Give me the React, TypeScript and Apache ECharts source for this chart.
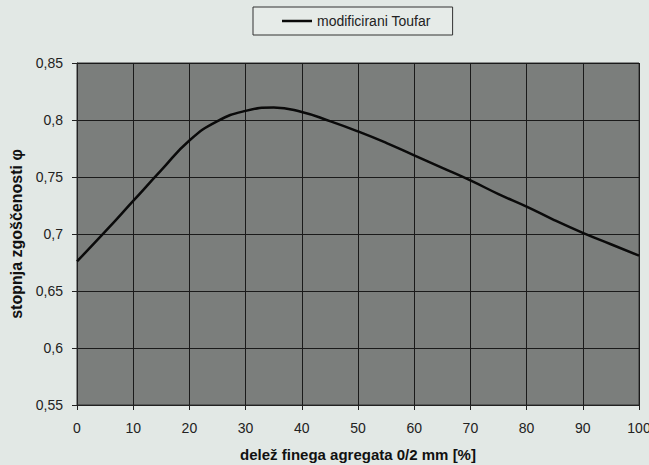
import React, { useEffect, useRef } from "react";
import * as echarts from "echarts";

const xValues = [0, 5, 10, 15, 20, 25, 30, 35, 40, 45, 50, 55, 60, 65, 70, 75, 80, 85, 90, 95, 100];
const phiValues = [0.676, 0.702, 0.729, 0.756, 0.782, 0.799, 0.808, 0.811, 0.807, 0.799, 0.79, 0.78, 0.769, 0.758, 0.747, 0.735, 0.724, 0.712, 0.701, 0.691, 0.681];
const seriesName = "modificirani Toufar";
const xTitle = "delež finega agregata 0/2 mm [%]";
const yTitle = "stopnja zgoščenosti φ";

export default function App() {
  const ref = useRef<HTMLDivElement>(null);
  useEffect(() => {
    document.body.style.margin = "0";
    if (!ref.current) return;
    const chart = echarts.init(ref.current, undefined, { renderer: "svg" });
    const font = "'Liberation Sans', Arial, sans-serif";
    chart.setOption({
      animation: false,
      backgroundColor: "#e2e8e5",
      textStyle: { fontFamily: font },
      legend: {
        show: true,
        top: 7,
        left: 253,
        itemWidth: 30,
        itemHeight: 10,
        padding: [7, 22, 7, 29],
        borderColor: "#333",
        borderWidth: 1,
        backgroundColor: "#e6ebe8",
        textStyle: { fontSize: 14, color: "#222", fontFamily: font },
        data: [{ name: seriesName, icon: "path://M0,4 L30,4 L30,6.5 L0,6.5 Z" }],
      },
      grid: {
        left: 77,
        right: 10,
        top: 63,
        bottom: 60,
        show: true,
        backgroundColor: "#7b7e7c",
        borderColor: "#333",
        borderWidth: 1,
        outerBoundsMode: "none",
        containLabel: false,
      },
      xAxis: {
        type: "value",
        min: 0,
        max: 100,
        interval: 10,
        name: xTitle,
        nameLocation: "middle",
        nameGap: 42,
        nameTextStyle: { fontSize: 15, fontWeight: "bold", color: "#111", fontFamily: font },
        axisLine: { show: true, lineStyle: { color: "#222" } },
        axisTick: { show: true, length: 5, lineStyle: { color: "#222" } },
        axisLabel: { fontSize: 14, color: "#222", margin: 16 },
        splitLine: { show: true, lineStyle: { color: "#1a1a1a", width: 1 } },
      },
      yAxis: {
        type: "value",
        min: 0.55,
        max: 0.85,
        interval: 0.05,
        name: yTitle,
        nameLocation: "middle",
        nameGap: 52,
        nameTextStyle: { fontSize: 16, fontWeight: "bold", color: "#111", fontFamily: font },
        axisLine: { show: true, lineStyle: { color: "#222" } },
        axisTick: { show: true, length: 5, lineStyle: { color: "#222" } },
        axisLabel: {
          fontSize: 14,
          color: "#222",
          margin: 14,
          formatter: (v: number) => String(Math.round(v * 100) / 100).replace(".", ","),
        },
        splitLine: { show: true, lineStyle: { color: "#1a1a1a", width: 1 } },
      },
      series: [
        {
          name: seriesName,
          type: "line",
          smooth: 0.5,
          showSymbol: false,
          symbol: "none",
          data: xValues.map((x, i) => [x, phiValues[i]]),
          lineStyle: { color: "#0a0a0a", width: 2.5 },
          itemStyle: { color: "#0a0a0a" },
        },
      ],
    });
    return () => chart.dispose();
  }, []);
  return <div ref={ref} style={{ width: 649, height: 465 }} />;
}
